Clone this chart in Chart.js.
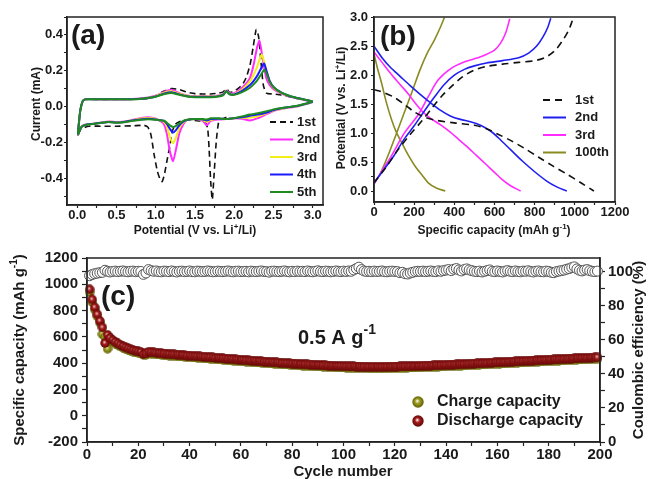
<!DOCTYPE html>
<html>
<head>
<meta charset="utf-8">
<script src="https://cdn.jsdelivr.net/npm/chart.js@4.4.1/dist/chart.umd.min.js"></script>
<style>
  html, body { margin: 0; padding: 0; background: #fff; }
  #wrap { position: relative; width: 650px; height: 479px; overflow: hidden; }
  canvas { position: absolute; }
</style>
</head>
<body>
<div id="wrap">
  <canvas id="cv" width="330" height="240" style="left:0;top:0"></canvas>
  <canvas id="gcd" width="320" height="240" style="left:330px;top:0"></canvas>
  <canvas id="cyc" width="650" height="239" style="left:0;top:240px"></canvas>
</div>
<script>
// ---- (a) cyclic voltammetry ----
const cvCathodicV = [3.0, 2.9, 2.8, 2.7, 2.6, 2.5, 2.4, 2.3, 2.2, 2.1, 2.0, 1.9, 1.8, 1.7, 1.65, 1.6, 1.5, 1.4, 1.35, 1.3, 1.26, 1.22, 1.18, 1.14, 1.1, 1.0, 0.9, 0.8, 0.7, 0.6, 0.5, 0.4, 0.3, 0.2, 0.1, 0.05, 0.01];
const cvAnodicV = [0.02, 0.04, 0.07, 0.1, 0.15, 0.2, 0.3, 0.4, 0.5, 0.6, 0.7, 0.8, 0.9, 1.0, 1.1, 1.2, 1.3, 1.4, 1.5, 1.6, 1.7, 1.8, 1.86, 1.9, 1.94, 2.0, 2.1, 2.2, 2.25, 2.29, 2.32, 2.35, 2.38, 2.41, 2.45, 2.5, 2.6, 2.7, 2.8, 2.9, 3.0];

const cv2Cath = [0.025, 0.012, 0.0, -0.006, -0.014, -0.025, -0.045, -0.065, -0.078, -0.068, -0.066, -0.07, -0.072, -0.08, -0.105, -0.08, -0.07, -0.075, -0.1, -0.15, -0.235, -0.305, -0.25, -0.15, -0.095, -0.068, -0.06, -0.066, -0.075, -0.084, -0.087, -0.084, -0.09, -0.096, -0.102, -0.115, -0.158];
const cv3Cath = [0.026, 0.013, 0.002, -0.004, -0.012, -0.022, -0.04, -0.055, -0.062, -0.064, -0.066, -0.07, -0.07, -0.075, -0.085, -0.075, -0.07, -0.075, -0.09, -0.12, -0.17, -0.205, -0.17, -0.11, -0.085, -0.07, -0.064, -0.068, -0.076, -0.085, -0.088, -0.085, -0.09, -0.096, -0.102, -0.115, -0.157];
const cv4Cath = [0.027, 0.014, 0.003, -0.003, -0.01, -0.02, -0.035, -0.045, -0.052, -0.06, -0.066, -0.07, -0.068, -0.07, -0.078, -0.072, -0.07, -0.075, -0.085, -0.105, -0.13, -0.145, -0.125, -0.095, -0.08, -0.072, -0.068, -0.072, -0.078, -0.086, -0.089, -0.086, -0.091, -0.097, -0.103, -0.116, -0.156];
const cv5Cath = [0.028, 0.015, 0.004, -0.002, -0.008, -0.016, -0.028, -0.038, -0.045, -0.055, -0.064, -0.07, -0.066, -0.066, -0.072, -0.07, -0.07, -0.074, -0.08, -0.095, -0.108, -0.114, -0.105, -0.09, -0.078, -0.074, -0.071, -0.075, -0.08, -0.088, -0.09, -0.087, -0.092, -0.098, -0.104, -0.117, -0.155];

const cv2An = [-0.1, -0.02, 0.03, 0.04, 0.042, 0.042, 0.04, 0.04, 0.04, 0.04, 0.042, 0.045, 0.05, 0.06, 0.08, 0.093, 0.075, 0.062, 0.058, 0.058, 0.058, 0.062, 0.07, 0.09, 0.075, 0.075, 0.105, 0.16, 0.24, 0.33, 0.367, 0.3, 0.22, 0.155, 0.12, 0.097, 0.072, 0.057, 0.046, 0.036, 0.025];
const cv3An = [-0.1, -0.02, 0.03, 0.04, 0.041, 0.041, 0.04, 0.04, 0.04, 0.04, 0.041, 0.044, 0.049, 0.058, 0.076, 0.086, 0.072, 0.06, 0.056, 0.056, 0.056, 0.06, 0.068, 0.088, 0.073, 0.07, 0.095, 0.14, 0.18, 0.22, 0.26, 0.29, 0.25, 0.2, 0.14, 0.105, 0.075, 0.058, 0.047, 0.037, 0.026];
const cv4An = [-0.1, -0.02, 0.03, 0.04, 0.041, 0.041, 0.04, 0.04, 0.04, 0.04, 0.041, 0.043, 0.048, 0.056, 0.072, 0.08, 0.068, 0.058, 0.054, 0.054, 0.054, 0.058, 0.066, 0.087, 0.07, 0.068, 0.088, 0.12, 0.145, 0.17, 0.195, 0.22, 0.24, 0.2, 0.145, 0.11, 0.077, 0.059, 0.048, 0.038, 0.027];
const cv5An = [-0.1, -0.02, 0.03, 0.04, 0.04, 0.04, 0.04, 0.04, 0.04, 0.04, 0.04, 0.042, 0.047, 0.055, 0.068, 0.075, 0.065, 0.056, 0.052, 0.052, 0.052, 0.056, 0.064, 0.085, 0.068, 0.065, 0.08, 0.105, 0.125, 0.145, 0.165, 0.185, 0.205, 0.185, 0.14, 0.108, 0.077, 0.06, 0.048, 0.038, 0.028];

// first cycle has its own potentials (different peaks)
const cv1V = [1.9, 1.84, 1.8, 1.77, 1.74, 1.72, 1.70, 1.68, 1.66, 1.62, 1.5, 1.4, 1.3, 1.25, 1.21, 1.18, 1.14, 1.11, 1.08, 1.05, 1.02, 0.98, 0.94, 0.9, 0.85, 0.7, 0.5, 0.3, 0.15, 0.05, 0.01, 0.02, 0.04, 0.07, 0.1, 0.2, 0.4, 0.6, 0.8, 0.9, 1.0, 1.1, 1.2, 1.3, 1.4, 1.5, 1.6, 1.7, 1.8, 1.86, 1.9, 1.94, 2.0, 2.1, 2.15, 2.2, 2.24, 2.28, 2.31, 2.34, 2.37, 2.41, 2.5, 2.6, 2.8, 3.0];
const cv1I = [-0.06, -0.07, -0.09, -0.2, -0.4, -0.52, -0.42, -0.24, -0.12, -0.085, -0.078, -0.075, -0.085, -0.1, -0.14, -0.22, -0.31, -0.38, -0.42, -0.4, -0.36, -0.27, -0.16, -0.115, -0.105, -0.108, -0.11, -0.11, -0.11, -0.125, -0.155, -0.1, -0.02, 0.03, 0.04, 0.04, 0.04, 0.04, 0.042, 0.045, 0.06, 0.085, 0.1, 0.095, 0.08, 0.072, 0.07, 0.07, 0.075, 0.082, 0.1, 0.08, 0.085, 0.12, 0.16, 0.23, 0.33, 0.43, 0.39, 0.25, 0.12, 0.075, 0.07, 0.065, 0.045, 0.03];

const cvLabels = ['1st', '2nd', '3rd', '4th', '5th'];
const cvColors = ['#111111', '#ff2bff', '#f2ee1a', '#1a1aff', '#1f8a1f'];

// ---- (b) charge / discharge profiles ----
const gcd1DisCap = [0, 50, 100, 150, 200, 250, 300, 400, 500, 560, 620, 680, 750, 820, 890, 960, 1030, 1095];
const gcd1DisV = [1.75, 1.70, 1.62, 1.50, 1.37, 1.28, 1.23, 1.18, 1.14, 1.08, 0.98, 0.88, 0.74, 0.59, 0.44, 0.30, 0.15, 0.01];
const gcd1ChCap = [0, 60, 120, 180, 240, 290, 340, 390, 440, 500, 560, 640, 720, 800, 850, 900, 940, 970, 990];
const gcd1ChV = [0.15, 0.42, 0.72, 0.98, 1.22, 1.44, 1.65, 1.82, 1.97, 2.09, 2.15, 2.19, 2.22, 2.25, 2.3, 2.42, 2.6, 2.78, 2.96];

const gcd2DisCap = [0, 40, 80, 130, 180, 230, 280, 330, 380, 430, 480, 530, 580, 620, 680, 740, 800, 860, 910, 960];
const gcd2DisV = [2.5, 2.3, 2.14, 1.98, 1.82, 1.67, 1.53, 1.40, 1.30, 1.24, 1.20, 1.14, 1.04, 0.92, 0.72, 0.52, 0.34, 0.18, 0.08, 0.01];
const gcd2ChCap = [0, 50, 100, 150, 200, 250, 300, 350, 400, 450, 500, 560, 640, 720, 770, 810, 840, 865, 880];
const gcd2ChV = [0.15, 0.38, 0.62, 0.9, 1.13, 1.38, 1.62, 1.84, 2.0, 2.1, 2.16, 2.21, 2.25, 2.3, 2.38, 2.5, 2.65, 2.82, 2.98];

const gcd3DisCap = [0, 40, 85, 130, 170, 210, 240, 280, 330, 380, 420, 460, 510, 560, 600, 640, 680, 730];
const gcd3DisV = [2.4, 2.22, 2.02, 1.84, 1.68, 1.5, 1.38, 1.26, 1.15, 1.02, 0.9, 0.78, 0.62, 0.46, 0.33, 0.2, 0.1, 0.01];
const gcd3ChCap = [0, 40, 86, 150, 220, 270, 320, 386, 452, 535, 600, 630, 655, 676];
const gcd3ChV = [0.13, 0.36, 0.61, 1.0, 1.32, 1.63, 1.92, 2.12, 2.23, 2.32, 2.43, 2.55, 2.72, 2.97];

const gcd100DisCap = [0, 15, 38, 60, 88, 110, 138, 170, 204, 240, 270, 310, 355];
const gcd100DisV = [2.37, 2.15, 1.86, 1.55, 1.23, 1.03, 0.84, 0.63, 0.44, 0.28, 0.15, 0.06, 0.01];
const gcd100ChCap = [0, 30, 70, 110, 150, 190, 230, 265, 300, 330, 350];
const gcd100ChV = [0.13, 0.3, 0.62, 0.98, 1.35, 1.72, 2.1, 2.38, 2.6, 2.82, 2.99];

const gcdLabels = ['1st', '2nd', '3rd', '100th'];
const gcdColors = ['#111111', '#1f1fef', '#ff2bff', '#8a8a22'];

// ---- (c) cycling at 0.5 A/g ----
const cycleNo = Array.from({ length: 199 }, (_, i) => i + 1);
const dischargeCap = [
  962, 885, 825, 772, 722, 672, 553, 615, 592, 576,
  562, 550, 539, 529, 520, 512, 505, 499, 494, 489,
  485, 470, 474, 486, 484, 481, 479, 477, 475, 473,
  471, 469, 467, 466, 464, 463, 461, 460, 458, 457,
  455, 454, 452, 451, 449, 448, 446, 445, 443, 441,
  440, 438, 437, 435, 433, 432, 430, 428, 427, 425,
  424, 422, 421, 419, 418, 416, 415, 413, 412, 411,
  409, 408, 406, 405, 404, 402, 401, 400, 398, 397,
  396, 395, 393, 392, 391, 390, 389, 388, 387, 386,
  385, 384, 383, 382, 381, 380, 379, 378, 378, 377,
  376, 376, 375, 375, 374, 374, 373, 373, 373, 372,
  372, 372, 372, 372, 372, 372, 373, 373, 373, 374,
  374, 375, 375, 376, 376, 377, 377, 378, 379, 379,
  380, 381, 381, 382, 383, 384, 384, 385, 386, 387,
  388, 389, 389, 390, 391, 392, 393, 394, 395, 396,
  397, 398, 399, 400, 401, 402, 403, 404, 405, 406,
  407, 408, 409, 410, 411, 412, 413, 414, 415, 416,
  417, 418, 419, 420, 421, 422, 423, 424, 425, 426,
  427, 428, 429, 430, 431, 432, 433, 434, 435, 436,
  437, 438, 439, 440, 440, 441, 442, 443, 444
];
const chargeCap = [
  940, 866, 808, 757, 708, 620, 600, 510, 578, 562,
  549, 538, 527, 518, 509, 501, 494, 488, 483, 478,
  474, 462, 463, 475, 473, 470, 468, 466, 464, 462,
  460, 458, 457, 455, 454, 452, 451, 449, 448, 446,
  445, 443, 442, 440, 439, 437, 436, 434, 433, 431,
  430, 428, 426, 425, 423, 421, 420, 418, 417, 415,
  414, 412, 411, 409, 408, 406, 405, 403, 402, 401,
  399, 398, 396, 395, 394, 392, 391, 390, 388, 387,
  386, 385, 383, 382, 381, 380, 379, 378, 377, 376,
  375, 374, 373, 372, 371, 370, 369, 368, 368, 367,
  366, 366, 365, 365, 364, 364, 363, 363, 363, 362,
  362, 362, 362, 362, 362, 362, 363, 363, 363, 364,
  364, 365, 365, 366, 366, 367, 367, 368, 369, 369,
  370, 371, 371, 372, 373, 374, 374, 375, 376, 377,
  378, 379, 379, 380, 381, 382, 383, 384, 385, 386,
  387, 388, 389, 390, 391, 392, 393, 394, 395, 396,
  397, 398, 399, 400, 401, 402, 403, 404, 405, 406,
  407, 408, 409, 410, 411, 412, 413, 414, 415, 416,
  417, 418, 419, 420, 421, 422, 423, 424, 425, 426,
  427, 428, 429, 430, 430, 431, 432, 433, 434
];
const coulombicEff = [
  97.6, 98.3, 98.8, 99.1, 99.4, 99.6, 100.8, 100.2, 99.8, 100.1,
  100.3, 100.0, 100.2, 100.4, 100.1, 99.9, 100.2, 100.3, 100.0, 100.2,
  100.1, 98.4, 99.2, 101.2, 100.6, 100.2, 100.4, 100.0, 99.9, 100.3,
  100.2, 100.0, 100.4, 100.1, 99.8, 100.2, 100.3, 100.0, 100.1, 100.4,
  100.0, 99.9, 100.3, 100.2, 100.0, 100.1, 100.4, 100.2, 99.9, 100.0,
  100.3, 100.1, 100.0, 100.2, 100.4, 100.1, 99.9, 100.2, 100.3, 100.0,
  100.1, 100.2, 99.9, 100.3, 100.1, 100.0, 100.2, 100.4, 100.1, 100.0,
  99.7, 100.2, 100.3, 100.1, 100.0, 100.2, 100.4, 100.1, 99.9, 100.2,
  100.0, 100.3, 100.1, 100.2, 100.0, 100.4, 100.1, 99.9, 100.2, 100.5,
  100.1, 100.0, 100.3, 100.2, 99.9, 100.1, 100.4, 100.2, 100.0, 100.3,
  100.1, 100.4, 100.2, 101.0, 101.8, 102.6, 101.2, 100.4, 100.1, 100.2,
  100.0, 100.3, 100.1, 100.2, 100.4, 100.0, 99.9, 100.2, 100.3, 100.1,
  100.0, 99.4, 99.6, 98.8, 98.6, 99.2, 99.6, 100.0, 100.2, 100.1,
  100.3, 100.0, 100.2, 100.4, 100.1, 100.0, 100.5, 100.2, 100.6, 100.9,
  101.2, 100.6, 101.4, 101.8, 101.0, 100.4, 101.2, 101.6, 101.0, 100.6,
  100.2, 100.0, 100.3, 99.8, 100.2, 100.6, 101.0, 100.2, 100.0, 100.4,
  100.1, 99.8, 100.3, 100.6, 100.2, 100.0, 100.4, 100.1, 99.9, 100.3,
  100.2, 100.5, 100.1, 99.8, 100.2, 100.4, 100.0, 99.9, 100.3, 100.1,
  99.6, 99.4, 100.0, 100.3, 100.6, 100.9, 101.4, 101.8, 102.4, 102.8,
  101.6, 100.8, 100.4, 100.9, 101.2, 100.6, 100.2, 100.0, 100.3
];

// ---- shared helpers ----
const FONT = "'Liberation Sans', Arial, sans-serif";
const INK = '#1a1a1a';
Chart.defaults.font.family = FONT;
Chart.defaults.font.weight = 'bold';
Chart.defaults.color = INK;

const isMultiple = (v, m) => Math.abs(v / m - Math.round(v / m)) < 1e-6;

// axis with minor ticks every `minor`, labels only every `major`
const axis = (min, max, minor, major, fmt, size, tickLen, pad, fixed, extra) => Object.assign({
  type: 'linear', min, max,
  border: { display: true, color: '#222', width: 1.5 },
  grid: { drawOnChartArea: false, drawTicks: true, tickLength: tickLen, color: '#222', tickWidth: 1.2 },
  ticks: {
    stepSize: minor, autoSkip: false, includeBounds: false, maxRotation: 0, padding: pad,
    color: INK, font: { size, weight: 'bold' },
    callback: v => isMultiple(v, major) ? fmt(v) : ''
  },
  afterFit: fixed
}, extra || {});

// text with optional superscript parts: [[text, isSup], ...]
function richText(ctx, parts, x, y, size, angle, align) {
  ctx.save();
  ctx.translate(x, y);
  ctx.rotate(angle || 0);
  ctx.fillStyle = INK;
  ctx.textBaseline = 'middle';
  ctx.textAlign = 'left';
  const fontFor = sup => `bold ${sup ? Math.round(size * 0.68) : size}px ${FONT}`;
  let total = 0;
  parts.forEach(([t, sup]) => { ctx.font = fontFor(sup); total += ctx.measureText(t).width; });
  let cx = align === 'left' ? 0 : -total / 2;
  parts.forEach(([t, sup]) => {
    ctx.font = fontFor(sup);
    ctx.fillText(t, cx, sup ? -size * 0.38 : 0);
    cx += ctx.measureText(t).width;
  });
  ctx.restore();
}

function lineLegend(ctx, datasets, x1, x2, tx, ys, size) {
  datasets.forEach((ds, k) => {
    ctx.save();
    ctx.strokeStyle = ds.borderColor;
    ctx.lineWidth = 2;
    ctx.setLineDash(ds.borderDash || []);
    ctx.beginPath();
    ctx.moveTo(x1, ys[k]);
    ctx.lineTo(x2, ys[k]);
    ctx.stroke();
    ctx.setLineDash([]);
    ctx.fillStyle = INK;
    ctx.font = `bold ${size}px ${FONT}`;
    ctx.textBaseline = 'middle';
    ctx.textAlign = 'left';
    ctx.fillText(ds.label, tx, ys[k]);
    ctx.restore();
  });
}

const framePlugin = {
  id: 'frame',
  afterDatasetsDraw(chart) {
    const { ctx, chartArea: a } = chart;
    ctx.save();
    ctx.strokeStyle = '#222';
    ctx.lineWidth = 1.5;
    ctx.strokeRect(a.left, a.top, a.right - a.left, a.bottom - a.top);
    ctx.restore();
  }
};

function panelLabel(ctx, text, x, y) {
  ctx.save();
  ctx.fillStyle = INK;
  ctx.font = `bold 28px ${FONT}`;
  ctx.textBaseline = 'middle';
  ctx.textAlign = 'left';
  ctx.fillText(text, x, y);
  ctx.restore();
}

// shaded ball used as marker for capacity points
function makeBall(light, mid, dark, size) {
  const c = document.createElement('canvas');
  c.width = c.height = size;
  const g = c.getContext('2d');
  const r = size / 2;
  const grad = g.createRadialGradient(r * 0.85, r * 0.8, 0, r, r, r);
  grad.addColorStop(0, light);
  grad.addColorStop(0.4, mid);
  grad.addColorStop(1, dark);
  g.fillStyle = grad;
  g.beginPath();
  g.arc(r, r, r - 0.3, 0, Math.PI * 2);
  g.fill();
  return c;
}

// ---- chart (a) ----
const toPts = (xs, ys) => xs.map((x, k) => ({ x, y: ys[k] }));
const cvV = cvCathodicV.concat(cvAnodicV);
const cvCurrents = [
  null,
  cv2Cath.concat(cv2An), cv3Cath.concat(cv3An), cv4Cath.concat(cv4An), cv5Cath.concat(cv5An)
];

new Chart(document.getElementById('cv'), {
  type: 'scatter',
  data: {
    datasets: cvLabels.map((label, k) => ({
      label,
      data: k === 0 ? toPts(cv1V, cv1I) : toPts(cvV, cvCurrents[k]),
      showLine: true,
      borderColor: cvColors[k],
      borderWidth: k === 0 ? 1.6 : 2,
      borderDash: k === 0 ? [6, 4] : [],
      pointRadius: 0,
      tension: 0.2,
      order: 5 - k
    }))
  },
  options: {
    responsive: false,
    animation: false,
    layout: { padding: { top: 17, right: 7, left: 0, bottom: 0 } },
    plugins: { legend: { display: false }, tooltip: { enabled: false } },
    scales: {
      x: axis(-0.13, 3.13, 0.25, 0.5, v => v.toFixed(1), 13, 3, 0, s => { s.height = 35; }),
      y: axis(-0.55, 0.5, 0.1, 0.2, v => v.toFixed(1), 13, 3, 1, s => { s.width = 67; })
    }
  },
  plugins: [framePlugin, {
    id: 'decorA',
    afterDraw(chart) {
      const ctx = chart.ctx;
      panelLabel(ctx, '(a)', 71, 36);
      lineLegend(ctx, chart.data.datasets, 270, 293, 297, [122, 139.5, 157, 174.5, 192], 13);
      richText(ctx, [['Potential (V vs. Li'], ['+', true], ['/Li)']], 195, 231, 12);
      richText(ctx, [['Current (mA)']], 37, 104, 12, -Math.PI / 2);
    }
  }]
});

// ---- chart (b) ----
const gcdSeries = [
  [gcd1DisCap, gcd1DisV, gcd1ChCap, gcd1ChV],
  [gcd2DisCap, gcd2DisV, gcd2ChCap, gcd2ChV],
  [gcd3DisCap, gcd3DisV, gcd3ChCap, gcd3ChV],
  [gcd100DisCap, gcd100DisV, gcd100ChCap, gcd100ChV]
];

new Chart(document.getElementById('gcd'), {
  type: 'scatter',
  data: {
    datasets: gcdLabels.map((label, k) => {
      const [dc, dv, cc, cvv] = gcdSeries[k];
      return {
        label,
        data: toPts(dc, dv).concat([{ x: dc[dc.length - 1], y: null }], toPts(cc, cvv)),
        showLine: true,
        spanGaps: false,
        borderColor: gcdColors[k],
        borderWidth: 1.6,
        borderDash: k === 0 ? [7, 5] : [],
        pointRadius: 0,
        tension: 0.3
      };
    })
  },
  options: {
    responsive: false,
    animation: false,
    layout: { padding: { top: 17, right: 35, left: 0, bottom: 0 } },
    plugins: { legend: { display: false }, tooltip: { enabled: false } },
    scales: {
      x: axis(0, 1200, 100, 200, v => String(v), 13, 3, 0, s => { s.height = 38; }),
      y: axis(-0.18, 3.0, 0.25, 0.5, v => v.toFixed(1), 13, 3, 3, s => { s.width = 44; })
    }
  },
  plugins: [framePlugin, {
    id: 'decorB',
    afterDraw(chart) {
      const ctx = chart.ctx;
      panelLabel(ctx, '(b)', 50, 37);
      lineLegend(ctx, chart.data.datasets, 213, 236, 245, [100, 117.5, 135, 152.5], 13);
      richText(ctx, [['Specific capacity (mAh g'], ['-1', true], [')']], 164, 231, 12);
      richText(ctx, [['Potential (V vs. Li'], ['+', true], ['/Li)']], 12, 108, 12, -Math.PI / 2);
    }
  }]
});

// ---- chart (c) ----
const dischargeBall = makeBall('#f6dede', '#a51c1c', '#5c0505', 10);
const chargeBall = makeBall('#f4f4c8', '#9c9c22', '#5a5a00', 10);
const dischargeKey = makeBall('#ffffff', '#a51c1c', '#5c0505', 12);
const chargeKey = makeBall('#ffffff', '#9c9c22', '#5a5a00', 12);

new Chart(document.getElementById('cyc'), {
  type: 'scatter',
  data: {
    datasets: [
      {
        label: 'Charge capacity',
        data: toPts(cycleNo, chargeCap),
        yAxisID: 'y',
        pointStyle: chargeBall,
        clip: false,
        order: 2
      },
      {
        label: 'Discharge capacity',
        data: toPts(cycleNo, dischargeCap),
        yAxisID: 'y',
        pointStyle: dischargeBall,
        clip: false,
        order: 1
      },
      {
        label: 'Coulombic efficiency',
        data: toPts(cycleNo, coulombicEff),
        yAxisID: 'y2',
        pointStyle: 'circle',
        pointRadius: 5,
        pointBackgroundColor: '#ffffff',
        pointBorderColor: '#555555',
        pointBorderWidth: 1,
        clip: false,
        order: 3
      }
    ]
  },
  options: {
    responsive: false,
    animation: false,
    layout: { padding: { top: 18, right: 0, left: 0, bottom: 0 } },
    plugins: { legend: { display: false }, tooltip: { enabled: false } },
    scales: {
      x: axis(0, 200, 10, 20, v => String(v), 15, 4, 0, s => { s.height = 37; }),
      y: axis(-200, 1200, 100, 200, v => String(v), 15, 5, 4, s => { s.width = 87; }),
      y2: axis(0, 108, 10, 20, v => String(v), 15, 5, 3, s => { s.width = 50; }, { position: 'right' })
    }
  },
  plugins: [framePlugin, {
    id: 'decorC',
    afterDraw(chart) {
      const ctx = chart.ctx;
      panelLabel(ctx, '(c)', 101, 57);
      richText(ctx, [['0.5 A g'], ['-1', true]], 298, 98, 20, 0, 'left');
      // legend
      [[chargeKey, 'Charge capacity', 162], [dischargeKey, 'Discharge capacity', 181]].forEach(([img, text, y]) => {
        ctx.drawImage(img, 418 - img.width / 2, y - img.height / 2);
        ctx.save();
        ctx.fillStyle = INK;
        ctx.font = `bold 16px ${FONT}`;
        ctx.textBaseline = 'middle';
        ctx.textAlign = 'left';
        ctx.fillText(text, 437, y);
        ctx.restore();
      });
      richText(ctx, [['Cycle number']], 343, 232, 15);
      richText(ctx, [['Specific capacity (mAh g'], ['-1', true], [')']], 20, 110, 15, -Math.PI / 2);
      richText(ctx, [['Coulombic efficiency (%)']], 639, 110, 15, -Math.PI / 2);
    }
  }]
});
</script>
</body>
</html>
